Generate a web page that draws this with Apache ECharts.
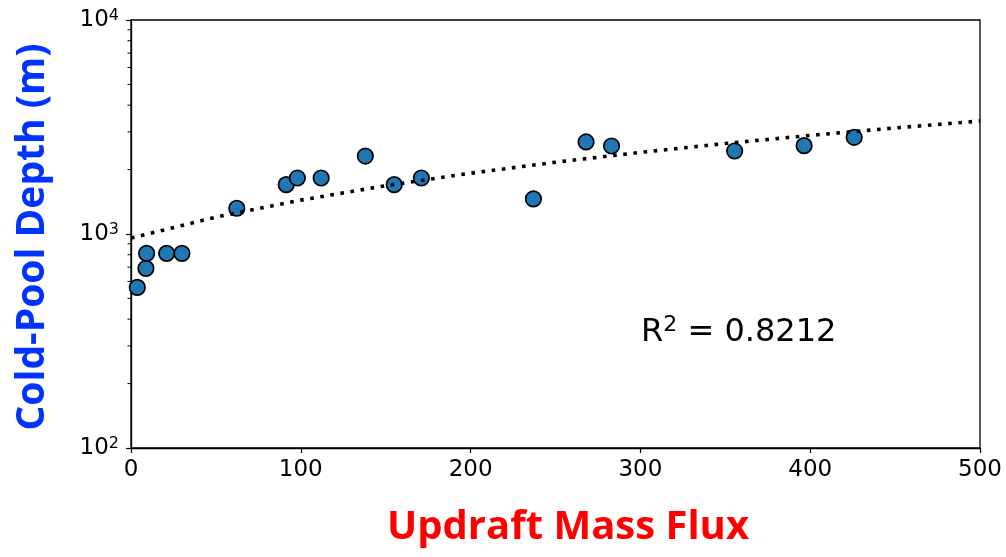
<!DOCTYPE html>
<html>
<head>
<meta charset="utf-8">
<script src="https://cdn.jsdelivr.net/npm/echarts@6/dist/echarts.min.js"></script>
<style>
html,body{margin:0;padding:0;background:#fff;}
#chart{width:1006px;height:557px;}
</style>
</head>
<body>
<div id="chart"></div>
<script>
// ---- data ----
const massFlux = [3.7, 8.8, 9.2, 21, 30, 62.3, 91.4, 98, 112, 138, 155, 171, 237, 268, 283, 355.5, 396.4, 425.9];
const poolDepth = [563, 691, 812, 812, 812, 1319, 1700, 1827, 1827, 2314, 1700, 1827, 1458, 2692, 2578, 2443, 2586, 2831];
const trendX = [0, 50, 100, 150, 200, 250, 300, 350, 400, 450, 500];
const trendY = [957, 1199, 1440, 1682, 1923, 2165, 2406, 2648, 2889, 3131, 3373];
const xTicks = [0, 100, 200, 300, 400, 500];
const yTickBase = '10';
const yTickExps = [2, 3, 4];
const yMinorTicks = [200, 300, 400, 500, 600, 700, 800, 900, 2000, 3000, 4000, 5000, 6000, 7000, 8000, 9000];
const xTitle = 'Updraft Mass Flux';
const yTitle = 'Cold-Pool Depth (m)';
const rLabel = 'R';
const rSup = '2';
const rValue = ' = 0.8212';

const chart = echarts.init(document.getElementById('chart'), null, {renderer: 'canvas'});
const tickFont = 'DejaVu Sans';
const option = {
  animation: false,
  backgroundColor: '#fff',
  grid: {left: 131, right: 26, top: 20, bottom: 109, show: true, borderColor: '#000', borderWidth: 1.3, containLabel: false},
  xAxis: {
    type: 'value', min: xTicks[0], max: xTicks[xTicks.length - 1], interval: 100,
    axisLine: {show: true, lineStyle: {color: '#000', width: 1.3}},
    axisTick: {show: true, inside: false, length: 5, lineStyle: {color: '#000', width: 1.2}},
    splitLine: {show: false},
    axisLabel: {color: '#000', fontFamily: tickFont, fontSize: 23, margin: 11}
  },
  yAxis: {
    type: 'log', logBase: 10, min: 100, max: 10000,
    axisLine: {show: true, lineStyle: {color: '#000', width: 1.3}},
    axisTick: {show: true, inside: false, length: 5, lineStyle: {color: '#000', width: 1.2}},
    splitLine: {show: false},
    axisLabel: {
      margin: 12,
      formatter: function (v) {
        const e = Math.round(Math.log10(v));
        const idx = yTickExps.indexOf(e);
        if (idx < 0) return '';
        return '{b|' + yTickBase + '}{e|' + yTickExps[idx] + '}';
      },
      rich: {
        b: {fontFamily: tickFont, fontSize: 23, color: '#000', lineHeight: 25},
        e: {fontFamily: tickFont, fontSize: 16, color: '#000', lineHeight: 16, verticalAlign: 'top'}
      }
    }
  },
  series: [
    {
      type: 'custom',
      silent: true,
      z: 1,
      data: yMinorTicks.map(v => [0, v]),
      renderItem: function (params, api) {
        const p = api.coord([api.value(0), api.value(1)]);
        return {type: 'line', shape: {x1: p[0] - 3.5, y1: p[1], x2: p[0], y2: p[1]}, style: {stroke: '#000', lineWidth: 1}};
      }
    },
    {
      type: 'scatter',
      z: 3,
      symbol: 'circle',
      symbolSize: 15.5,
      itemStyle: {color: '#1f77b4', borderColor: '#000', borderWidth: 1.7, opacity: 1},
      data: massFlux.map((x, i) => [x, poolDepth[i]])
    },
    {
      type: 'line',
      z: 4,
      silent: true,
      symbol: 'none',
      smooth: false,
      lineStyle: {color: '#000', width: 3.6, type: [3.6, 6.6], cap: 'butt'},
      data: trendX.map((x, i) => [x, trendY[i]])
    }
  ],
  graphic: [
    {
      type: 'text', x: 568, y: 528,
      style: {text: xTitle, fontFamily: 'Open Sans', fontWeight: 'bold', fontSize: 40, fill: '#ff0000', align: 'center', verticalAlign: 'middle'}
    },
    {
      type: 'text', x: 33, y: 237, rotation: Math.PI / 2,
      style: {text: yTitle, fontFamily: 'Open Sans', fontWeight: 'bold', fontSize: 39, fill: '#0033ff', align: 'center', verticalAlign: 'middle'}
    },
    {
      type: 'text', x: 641, y: 314,
      style: {
        text: '{a|' + rLabel + '}{s|' + rSup + '}{a|' + rValue + '}',
        rich: {
          a: {fontFamily: tickFont, fontSize: 32, fill: '#000', lineHeight: 37},
          s: {fontFamily: tickFont, fontSize: 22, fill: '#000', lineHeight: 22, verticalAlign: 'top'}
        }
      }
    }
  ]
};
chart.setOption(option);
</script>
</body>
</html>
